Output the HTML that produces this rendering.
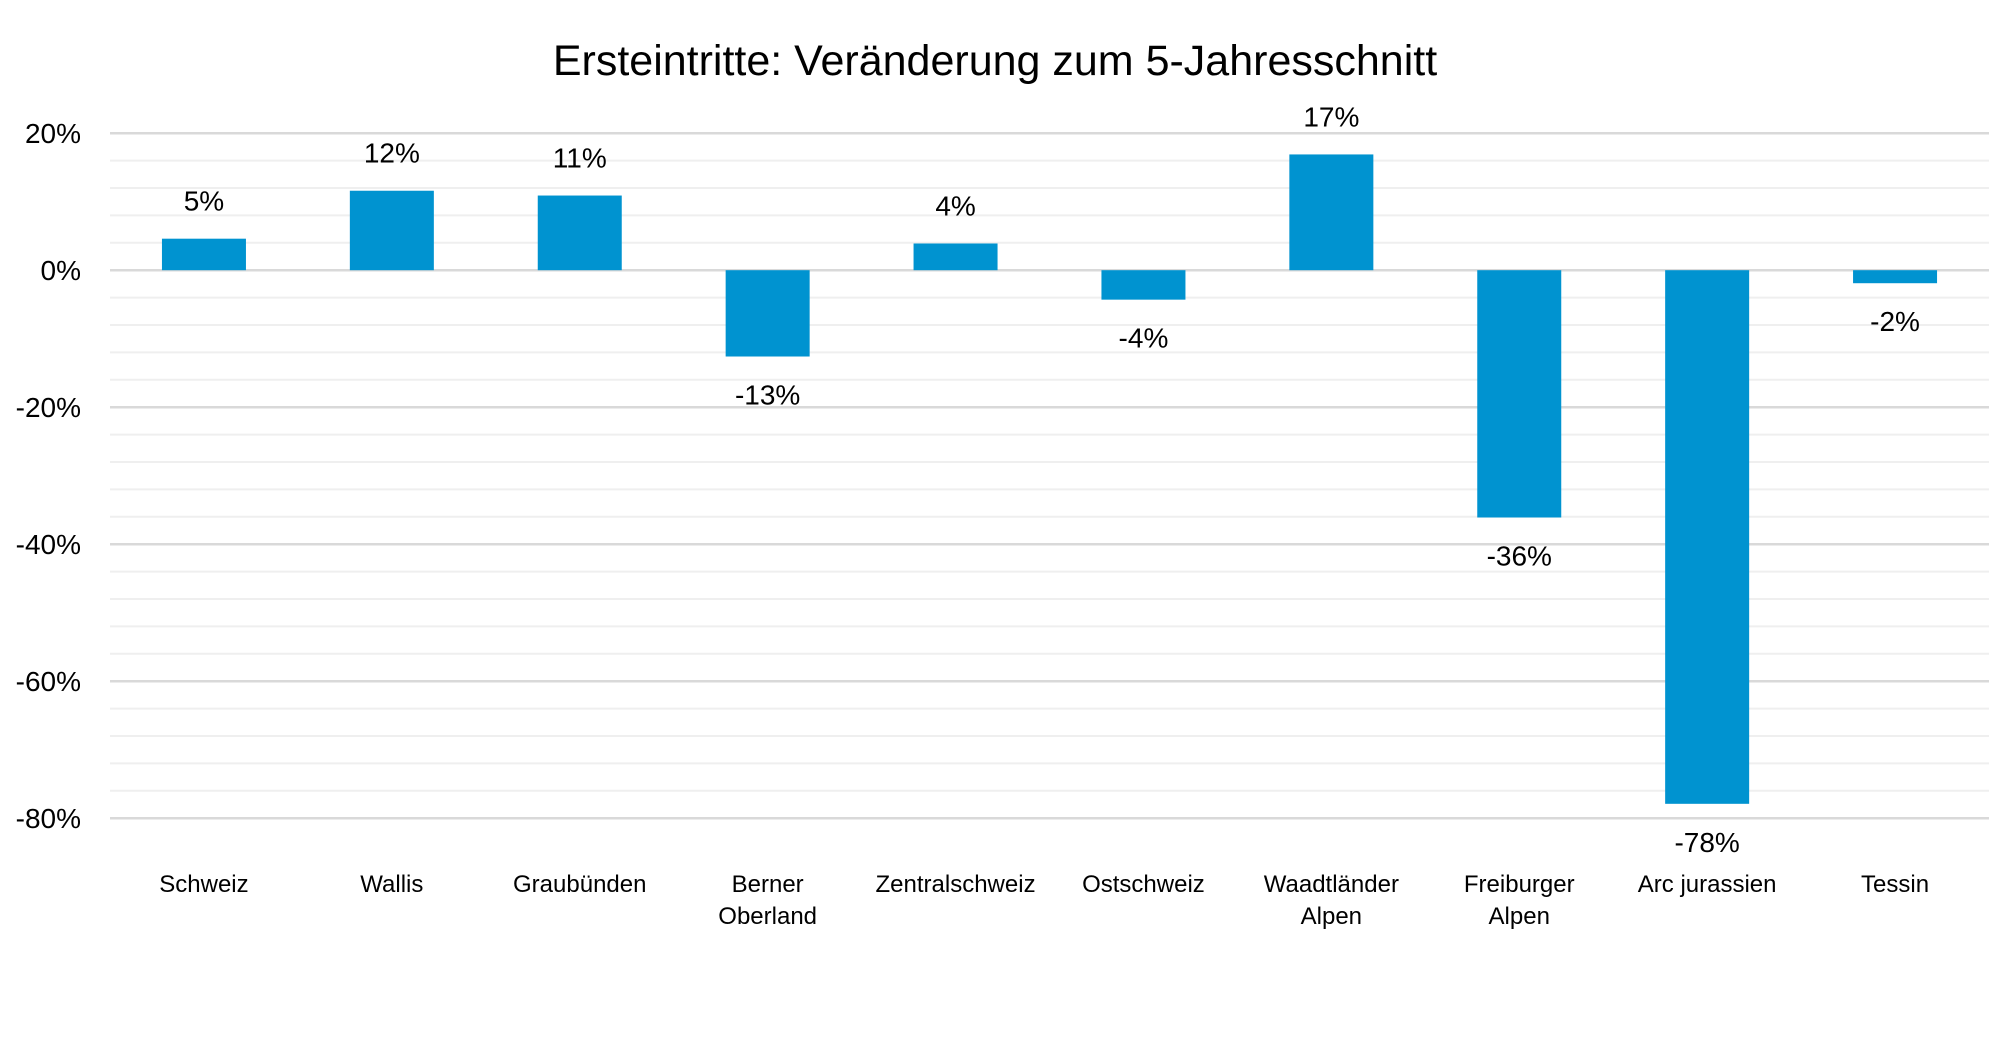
<!DOCTYPE html>
<html><head><meta charset="utf-8"><style>
html,body{margin:0;padding:0;background:#fff;}
svg{display:block;font-family:"Liberation Sans",Arial,sans-serif;}
</style></head><body>
<svg id="chart" width="1989" height="1060" viewBox="0 0 1989 1060" xmlns="http://www.w3.org/2000/svg">
<rect width="1989" height="1060" fill="#fff"/>
<text x="995" y="75" text-anchor="middle" font-size="43" fill="#000">Ersteintritte: Veränderung zum 5-Jahresschnitt</text>
<g id="grid"></g><g id="ticks"></g><g id="bars"></g><g id="labels"></g><g id="cats"></g>
</svg>
<script>
const categories=[["Schweiz"],["Wallis"],["Graubünden"],["Berner","Oberland"],["Zentralschweiz"],["Ostschweiz"],["Waadtländer","Alpen"],["Freiburger","Alpen"],["Arc jurassien"],["Tessin"]];
const values=[4.6,11.6,10.9,-12.6,3.9,-4.3,16.9,-36.1,-77.9,-1.9];
const valueLabels=["5%","12%","11%","-13%","4%","-4%","17%","-36%","-78%","-2%"];
const tickValues=[20,0,-20,-40,-60,-80];
const tickLabels=["20%","0%","-20%","-40%","-60%","-80%"];
const NS="http://www.w3.org/2000/svg";
const x0=110,x1=1989,yTop=133.2,yBot=818.2,vTop=20,vBot=-80;
const y=v=>yTop+(vTop-v)*(yBot-yTop)/(vTop-vBot);
const band=(x1-x0)/categories.length;
const xc=i=>x0+band*(i+0.5);
const bw=84;
function mk(tag,attrs,parent,text){const e=document.createElementNS(NS,tag);for(const k in attrs)e.setAttribute(k,attrs[k]);if(text!==undefined)e.textContent=text;document.getElementById(parent).appendChild(e);return e;}
for(let v=vBot;v<=vTop;v+=4){
  const major=v%20===0;
  const l=mk("line",{x1:x0,x2:x1,y1:y(v),y2:y(v),stroke:major?"#d9d9d9":"#efefef","stroke-width":major?2.5:2},"grid");
  
  
}
tickValues.forEach((v,i)=>{
  const t=mk("text",{x:81,y:y(v)+10,"text-anchor":"end","font-size":28,fill:"#000"},"ticks",tickLabels[i]);
  
  
});
values.forEach((v,i)=>{
  const top=y(Math.max(v,0)),bot=y(Math.min(v,0));
  const r=mk("rect",{x:xc(i)-bw/2,y:top,width:bw,height:bot-top,fill:"#0093d0"},"bars");
  
  
  const ly=v>=0?y(v)-28:y(v)+48;
  const t=mk("text",{x:xc(i),y:ly,"text-anchor":"middle","font-size":28,fill:"#000"},"labels",valueLabels[i]);
  
  
  categories[i].forEach((line,j)=>{
    const c=mk("text",{x:xc(i),y:892+j*32,"text-anchor":"middle","font-size":24,fill:"#000"},"cats",line);
    
    
  });
});
</script>
</body></html>
